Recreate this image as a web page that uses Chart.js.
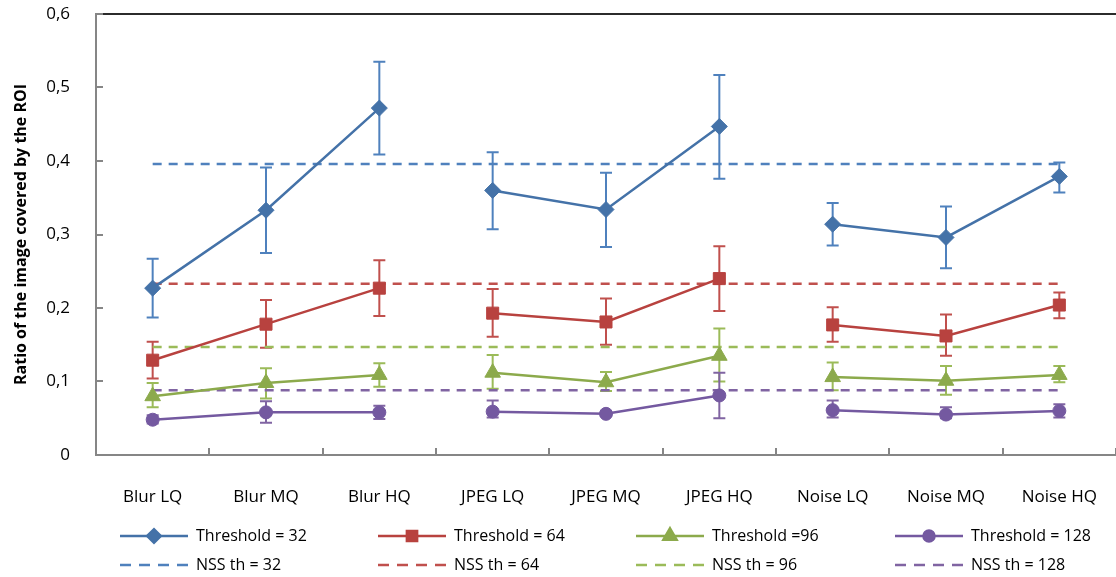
<!DOCTYPE html>
<html lang="en">
<head>
    <meta charset="UTF-8">
    <title>Ratio of the image covered by the ROI</title>
    <script src="https://cdn.jsdelivr.net/npm/chart.js"></script>
    <style>
        html, body { margin: 0; padding: 0; background: #fff; overflow: hidden; }
        #wrap { position: relative; width: 1116px; height: 577px; }
    </style>
</head>
<body>
    <div id="wrap"><canvas id="chart"></canvas></div>

    <script>
        const categories = ['Blur LQ', 'Blur MQ', 'Blur HQ', 'JPEG LQ', 'JPEG MQ', 'JPEG HQ', 'Noise LQ', 'Noise MQ', 'Noise HQ'];

        // mean ratio per threshold
        const th32  = [0.227, 0.333, 0.472, 0.360, 0.334, 0.447, 0.314, 0.296, 0.379];
        const th64  = [0.129, 0.178, 0.227, 0.193, 0.181, 0.240, 0.177, 0.162, 0.204];
        const th96  = [0.080, 0.098, 0.109, 0.112, 0.099, 0.135, 0.106, 0.101, 0.109];
        const th128 = [0.048, 0.058, 0.058, 0.059, 0.056, 0.081, 0.061, 0.055, 0.060];

        // error bars (low / high)
        const th32Low   = [0.187, 0.275, 0.409, 0.307, 0.283, 0.376, 0.285, 0.254, 0.357];
        const th32High  = [0.267, 0.391, 0.535, 0.412, 0.384, 0.517, 0.343, 0.338, 0.398];
        const th64Low   = [0.104, 0.146, 0.189, 0.161, 0.150, 0.196, 0.154, 0.135, 0.186];
        const th64High  = [0.154, 0.211, 0.265, 0.226, 0.213, 0.284, 0.201, 0.191, 0.221];
        const th96Low   = [0.065, 0.077, 0.093, 0.090, 0.087, 0.100, 0.088, 0.082, 0.099];
        const th96High  = [0.098, 0.118, 0.125, 0.136, 0.113, 0.172, 0.126, 0.121, 0.121];
        const th128Low  = [0.043, 0.044, 0.049, 0.051, 0.053, 0.050, 0.051, 0.050, 0.051];
        const th128High = [0.054, 0.073, 0.067, 0.074, 0.060, 0.112, 0.074, 0.065, 0.069];

        // NSS thresholds (horizontal dashed lines)
        const nssValues = [0.396, 0.233, 0.147, 0.088];

        const yTicks = [0, 0.1, 0.2, 0.3, 0.4, 0.5, 0.6];
        const seriesNames = ['Threshold = 32', 'Threshold = 64', 'Threshold =96', 'Threshold = 128'];
        const nssNames = ['NSS th = 32', 'NSS th = 64', 'NSS th = 96', 'NSS th = 128'];

        const lineColors = ['#4472A8', '#B8423F', '#8CAA4C', '#7459A0'];
        const lightColors = ['#4F81BD', '#C0504D', '#9BBB59', '#8064A2'];
        const markers = [
            { style: 'rectRot', radius: 8 },
            { style: 'rect', radius: 8.5 },
            { style: 'triangle', radius: 9 },
            { style: 'circle', radius: 6.5 }
        ];
        const groupBreaks = [2, 5]; // no line between groups

        const FONT = '"Open Sans", "Noto Sans", sans-serif';
        const means = [th32, th64, th96, th128];
        const lows = [th32Low, th64Low, th96Low, th128Low];
        const highs = [th32High, th64High, th96High, th128High];

        const datasets = [];
        means.forEach((vals, i) => {
            datasets.push({
                label: seriesNames[i],
                data: vals,
                borderColor: lineColors[i],
                backgroundColor: lineColors[i],
                borderWidth: 2.5,
                pointStyle: markers[i].style,
                pointRadius: markers[i].radius,
                pointBorderWidth: 1,
                pointBorderColor: lineColors[i],
                segment: {
                    borderColor: ctx => groupBreaks.includes(ctx.p0DataIndex) ? 'transparent' : lineColors[i]
                },
                order: 1
            });
        });
        nssValues.forEach((v, i) => {
            datasets.push({
                label: nssNames[i],
                data: [{ x: categories[0], y: v }, { x: categories[categories.length - 1], y: v }],
                borderColor: lightColors[i],
                borderWidth: 2.5,
                borderDash: [9, 7],
                pointRadius: 0,
                order: 2
            });
        });

        // error bars, inner tick marks, top border and legend
        const extras = {
            id: 'extras',
            beforeDatasetsDraw(chart) {
                const ctx = chart.ctx;
                const xs = chart.scales.x, ys = chart.scales.y;
                ctx.save();
                ctx.lineWidth = 2;
                means.forEach((vals, i) => {
                    ctx.strokeStyle = lightColors[i];
                    vals.forEach((v, j) => {
                        const x = xs.getPixelForValue(j);
                        const yl = ys.getPixelForValue(lows[i][j]);
                        const yh = ys.getPixelForValue(highs[i][j]);
                        ctx.beginPath();
                        ctx.moveTo(x, yl); ctx.lineTo(x, yh);
                        ctx.moveTo(x - 6, yl); ctx.lineTo(x + 6, yl);
                        ctx.moveTo(x - 6, yh); ctx.lineTo(x + 6, yh);
                        ctx.stroke();
                    });
                });
                ctx.restore();
            },
            afterDraw(chart) {
                const ctx = chart.ctx;
                const area = chart.chartArea;
                const xs = chart.scales.x, ys = chart.scales.y;
                ctx.save();
                // top border
                ctx.strokeStyle = '#2b2b2b';
                ctx.lineWidth = 2;
                ctx.beginPath();
                ctx.moveTo(area.left, area.top);
                ctx.lineTo(area.right, area.top);
                ctx.stroke();
                // inner ticks
                ctx.strokeStyle = '#868686';
                ctx.lineWidth = 2;
                ctx.beginPath();
                yTicks.forEach(t => {
                    const y = Math.round(ys.getPixelForValue(t));
                    ctx.moveTo(area.left, y); ctx.lineTo(area.left + 7, y);
                });
                for (let j = 0; j <= categories.length; j++) {
                    const x = Math.round(xs.getPixelForValue(j - 0.5));
                    ctx.moveTo(x, area.bottom); ctx.lineTo(x, area.bottom - 7);
                }
                ctx.stroke();

                // legend: 2 rows x 4 columns
                const colX = [120, 378, 636, 895];
                const rowY = [536, 565];
                ctx.font = '16px ' + FONT;
                ctx.textBaseline = 'middle';
                ctx.fillStyle = '#000';
                for (let i = 0; i < 4; i++) {
                    const x0 = colX[i], x1 = colX[i] + 68;
                    // solid series
                    ctx.setLineDash([]);
                    ctx.strokeStyle = lineColors[i];
                    ctx.lineWidth = 2.5;
                    ctx.beginPath();
                    ctx.moveTo(x0, rowY[0]); ctx.lineTo(x1, rowY[0]);
                    ctx.stroke();
                    Chart.helpers.drawPoint(ctx, {
                        pointStyle: markers[i].style,
                        radius: markers[i].radius * 0.85,
                        borderWidth: 1
                    }, (x0 + x1) / 2, rowY[0]);
                    ctx.fillStyle = lineColors[i];
                    ctx.fill();
                    ctx.fillStyle = '#000';
                    ctx.fillText(seriesNames[i], x1 + 8, rowY[0]);
                    // dashed NSS
                    ctx.strokeStyle = lightColors[i];
                    ctx.setLineDash([11, 8]);
                    ctx.beginPath();
                    ctx.moveTo(x0, rowY[1]); ctx.lineTo(x1, rowY[1]);
                    ctx.stroke();
                    ctx.setLineDash([]);
                    ctx.fillText(nssNames[i], x1 + 8, rowY[1]);
                }
                ctx.restore();
            }
        };

        new Chart(document.getElementById('chart'), {
            type: 'line',
            data: { labels: categories, datasets: datasets },
            options: {
                responsive: true,
                maintainAspectRatio: false,
                animation: false,
                layout: { autoPadding: false, padding: { top: 14, right: -2, bottom: 0, left: 0 } },
                plugins: {
                    legend: { display: false },
                    tooltip: { enabled: false }
                },
                scales: {
                    x: {
                        type: 'category',
                        offset: true,
                        grid: { display: false },
                        border: { display: true, color: '#868686', width: 2 },
                        ticks: {
                            color: '#000',
                            padding: 24,
                            maxRotation: 0,
                            font: { family: FONT, size: 17 }
                        },
                        afterFit: s => { s.height = 122; s.paddingLeft = 0; s.paddingRight = 0; }
                    },
                    y: {
                        min: 0,
                        max: 0.6,
                        grid: { display: false },
                        border: { display: true, color: '#868686', width: 2 },
                        ticks: {
                            stepSize: 0.1,
                            color: '#000',
                            padding: 18,
                            font: { family: FONT, size: 17 },
                            callback: v => v === 0 ? '0' : v.toFixed(1).replace('.', ',')
                        },
                        title: {
                            display: true,
                            text: 'Ratio of the image covered by the ROI',
                            color: '#000',
                            padding: { top: 12, bottom: 0 },
                            font: { family: FONT, size: 16, weight: 'bold' }
                        },
                        afterFit: s => { s.width = 96; s.paddingTop = 0; s.paddingBottom = 0; }
                    }
                }
            },
            plugins: [extras]
        });
    </script>
</body>
</html>
